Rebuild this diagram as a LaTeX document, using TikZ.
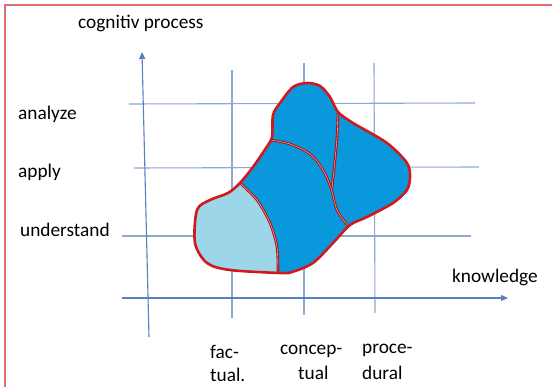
\documentclass[tikz,border=0pt]{standalone}
\usepackage{fontspec}
\setmainfont{Carlito}
\usetikzlibrary{arrows.meta}
\definecolor{gridc}{HTML}{8EA9CF}
\definecolor{axisc}{HTML}{5B7FBF}
\definecolor{darkb}{HTML}{0A98DC}
\definecolor{lightb}{HTML}{9DD6E8}
\definecolor{outl}{HTML}{D0191E}
\definecolor{framec}{HTML}{E07070}
\tikzset{
  gridline/.style={draw=gridc, line width=1.1pt},
  axisline/.style={draw=axisc, line width=1.1pt, -{Triangle[length=7pt,width=6pt]}},
  lbl/.style={font=\fontsize{19.3}{22}\selectfont, inner sep=0pt, anchor=west},
  divider/.style={draw=outl!80!black, line width=1.1pt, double=white!80!outl, double distance=0.4pt},
}
\begin{document}
\begin{tikzpicture}[x=1pt,y=-1pt]
\useasboundingbox (0,0) rectangle (552,387);
\fill[white] (0,0) rectangle (552,387);
\draw[framec, line width=1.2pt] (5,390) -- (5,5) -- (555,5);

% coordinates
\coordinate (hA1) at (129,104); \coordinate (hA2) at (475,103);
\coordinate (hB1) at (134,168); \coordinate (hB2) at (479,167);
\coordinate (hC1) at (122,236); \coordinate (hC2) at (471,236);
\coordinate (kx1) at (122,298); \coordinate (kx2) at (508,298);
\coordinate (vy1) at (149,337); \coordinate (vy2) at (142,52);
\coordinate (v1a) at (232,70);  \coordinate (v1b) at (232,318);
\coordinate (v2a) at (304,63);  \coordinate (v2b) at (304,315);
\coordinate (v3a) at (374,63);  \coordinate (v3b) at (375,313);

\draw[gridline] (hA1) -- (hA2);
\draw[gridline] (hB1) -- (hB2);
\draw[gridline] (hC1) -- (hC2);
\draw[gridline] (v1a) -- (v1b);
\draw[gridline] (v2a) -- (v2b);
\draw[gridline] (v3a) -- (v3b);
\draw[axisline] (kx1) -- (kx2);
\draw[axisline] (vy1) -- (vy2);

% blob
\def\blobpath{plot[smooth cycle, tension=0.5] coordinates {
 (197,210) (195,243) (207,263) (230,270) (280,273) (292,272) (313,263)
 (333,243) (350,225) (367,217) (393,203) (407,190) (410,177) (407,163)
 (387,143) (353,123) (338,112) (330,97) (320,86) (307,83) (293,87)
 (280,103) (273,115) (272,137) (266,148) (253,167) (240,183) (228,193) (210,200)}}
\fill[darkb] \blobpath;
\begin{scope}
\clip \blobpath;
\fill[lightb] (180,180) -- (240,183) -- plot[smooth, tension=0.5] coordinates {(240,183) (257,200) (270,223) (277,247) (278,273)} -- (278,290) -- (180,290) -- cycle;
\end{scope}
\draw[divider] plot[smooth, tension=0.5] coordinates {(240,183) (257,200) (270,223) (277,247) (278,273)};
\draw[divider] plot[smooth, tension=0.5] coordinates {(271,140) (290,144) (310,154) (323,170) (331,188) (337,210) (348,226)};
\draw[divider] plot[smooth, tension=0.5] coordinates {(338,113) (337,137) (335,160) (332,188)};
\draw[outl, line width=2.6pt, line join=round] \blobpath;

% labels
\node[lbl] (cog) at (78,23) {cognitiv process};
\node[lbl] (ana) at (18,114) {analyze};
\node[lbl] (app) at (18,172) {apply};
\node[lbl] (und) at (20,230) {understand};
\node[lbl] (kno) at (452,277) {knowledge};
\node[lbl] (f1) at (210,352) {fac-};
\node[lbl] (f2) at (210,375) {tual.};
\node[lbl] (c1) at (280,351) {concep-};
\node[lbl] (c2) at (298,373) {tual};
\node[lbl] (p1) at (362,350) {proce-};
\node[lbl] (p2) at (362,373) {dural};
\end{tikzpicture}
\end{document}
